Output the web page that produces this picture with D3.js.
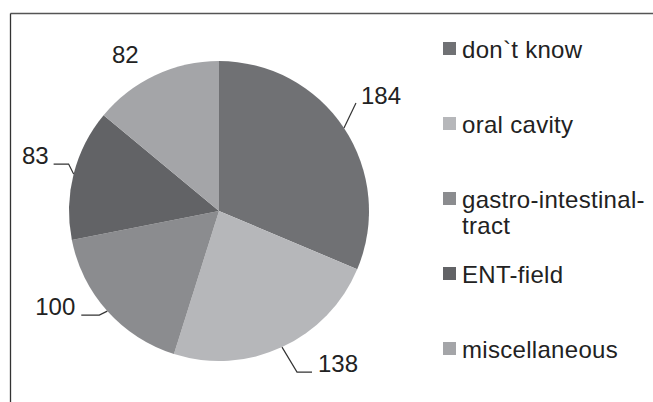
<!DOCTYPE html>
<html>
<head>
<meta charset="utf-8">
<script src="https://cdn.jsdelivr.net/npm/d3@7"></script>
<style>
  html, body { margin: 0; padding: 0; background: #fff; }
  svg { display: block; }
  text { font-family: "Liberation Sans", Arial, sans-serif; fill: #222; }
</style>
</head>
<body>
<svg id="chart" width="653" height="402"></svg>
<script>
// ---- data ----
const categories = ["don`t know", "oral cavity", "gastro-intestinal-tract", "ENT-field", "miscellaneous"];
const legendLines = [["don`t know"], ["oral cavity"], ["gastro-intestinal-", "tract"], ["ENT-field"], ["miscellaneous"]];
const values = [184, 138, 100, 83, 82];
const colors = ["#707174", "#b6b7ba", "#8b8c8f", "#626366", "#a4a5a8"];

// ---- layout ----
const W = 653, H = 402;
const cx = 219, cy = 211, R = 150;
// leader layout per slice
const leaderLayout = [
  { elbow: [12, -25], horiz: 0,   anchor: "start", tdx: 5,  tdy: 1 },
  { elbow: [15, 25],  horiz: 15,  anchor: "start", tdx: 6,  tdy: 0 },
  { elbow: [-8, 4],   horiz: -18, anchor: "end",   tdx: -6, tdy: 0 },
  { elbow: [-5, -10], horiz: -15, anchor: "end",   tdx: -5, tdy: 0 },
  { elbow: null,      horiz: 0,   anchor: "middle", tdx: -30, tdy: -12 }
];

const svg = d3.select("#chart");

// frame (top and left edges visible)
svg.append("line").attr("x1", 10.5).attr("y1", 13.5).attr("x2", W).attr("y2", 13.5)
  .attr("stroke", "#555").attr("stroke-width", 1.3);
svg.append("line").attr("x1", 10.5).attr("y1", 13.5).attr("x2", 10.5).attr("y2", H)
  .attr("stroke", "#333").attr("stroke-width", 1.3);

const pie = d3.pie().sort(null).value(d => d)(values);
const arc = d3.arc().innerRadius(0).outerRadius(R);
const edgeArc = d3.arc().innerRadius(R).outerRadius(R);

const g = svg.append("g").attr("transform", `translate(${cx},${cy})`);
g.selectAll("path.slice").data(pie).join("path")
  .attr("class", "slice")
  .attr("d", arc)
  .attr("fill", (d, i) => colors[i]);

// labels with leader lines
pie.forEach((d, i) => {
  const L = leaderLayout[i];
  const e = edgeArc.centroid(d);
  let tx, ty;
  if (L.elbow) {
    const el = [e[0] + L.elbow[0], e[1] + L.elbow[1]];
    const end = [el[0] + L.horiz, el[1]];
    g.append("path")
      .attr("d", d3.line()([e, el, end]))
      .attr("fill", "none").attr("stroke", "#333").attr("stroke-width", 1.2);
    tx = end[0] + L.tdx; ty = end[1] + L.tdy;
  } else {
    tx = e[0] + L.tdx; ty = e[1] + L.tdy;
  }
  g.append("text")
    .attr("x", tx).attr("y", ty)
    .attr("text-anchor", L.anchor)
    .attr("font-size", 24)
    .text(values[i]);
});

// legend
const legendY = d3.scalePoint().domain(d3.range(categories.length)).range([55, 355]);
const lg = svg.append("g");
categories.forEach((c, i) => {
  const y = legendY(i);
  lg.append("rect").attr("x", 443).attr("y", y - 13).attr("width", 13).attr("height", 13)
    .attr("fill", colors[i]);
  const t = lg.append("text").attr("x", 462).attr("y", y + 3)
    .attr("font-size", 24).attr("letter-spacing", 0.3);
  legendLines[i].forEach((line, k) => {
    t.append("tspan").attr("x", 462).attr("dy", k === 0 ? 0 : 26).text(line);
  });
});
</script>
</body>
</html>
